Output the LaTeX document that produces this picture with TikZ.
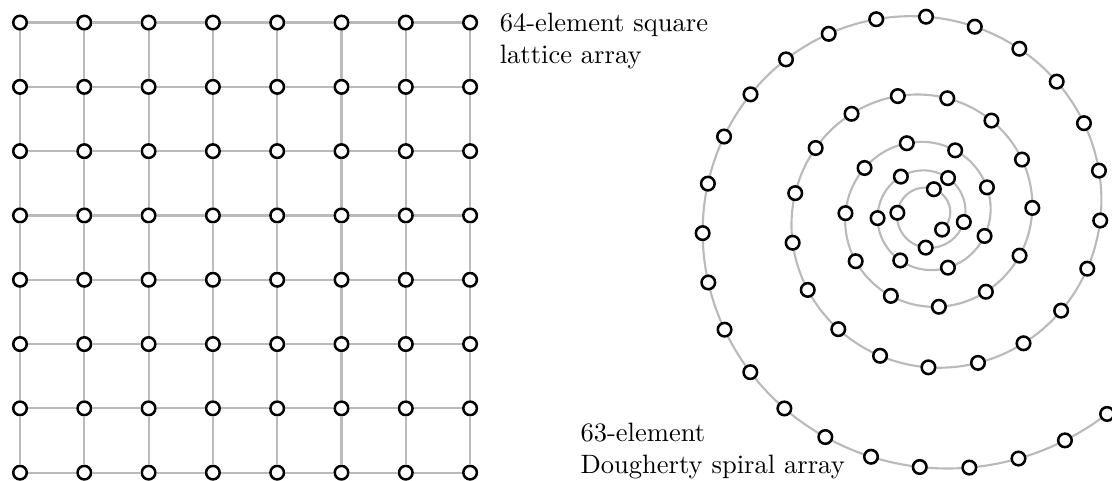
\documentclass[tikz,border=0pt]{standalone}
\usepackage{tikz}
\usetikzlibrary{positioning}
\definecolor{wiregray}{RGB}{184,186,190}
\tikzset{
    elem/.style={circle,draw=black,line width=0.95pt,fill=white,inner sep=0pt,minimum size=5.1pt},
    wire/.style={draw=wiregray,line width=0.8pt},
    arraylabel/.style={align=left,inner sep=0pt,anchor=base west,font=\normalsize}
}
\begin{document}
\begin{tikzpicture}[x=0.8507cm,y=0.8507cm]
  \useasboundingbox (-0.311,-0.129) rectangle (16.983,7.351);

  % 8x8 lattice
  \foreach \i in {0,...,7}{
    \foreach \j in {0,...,7}{
      \node[elem] (g-\i-\j) at (\i,\j) {};
    }
  }
  \foreach \i in {0,...,7}{
    \foreach \j [count=\k] in {0,...,6}{
      \draw[wire] (g-\i-\j) -- (g-\i-\k);
      \draw[wire] (g-\j-\i) -- (g-\k-\i);
    }
  }

  % log spiral, 63 elements at equal arc length
  \begin{scope}[shift={(14.106,4.023)}]
    \draw[wire] plot[domain=-46:1752,samples=500,smooth]
      (\x:{0.3375*exp(0.08023*(\x+46)*pi/180)});
    \foreach \n in {1,...,63}{
      \pgfmathsetmacro{\rad}{0.3375+0.06206*(\n-1)}
      \pgfmathsetmacro{\ang}{-46+deg(ln(\rad/0.3375)/0.08023)}
      \node[elem] (s-\n) at (\ang:\rad) {};
    }
  \end{scope}

  % labels (base = last line)
  \node[arraylabel] (sqlabel) at (7.454,6.367)
    {64-element square\\lattice array};
  \node[arraylabel] (splabel) at (8.709,-0.009)
    {63-element\\Dougherty spiral array};
\end{tikzpicture}
\end{document}
